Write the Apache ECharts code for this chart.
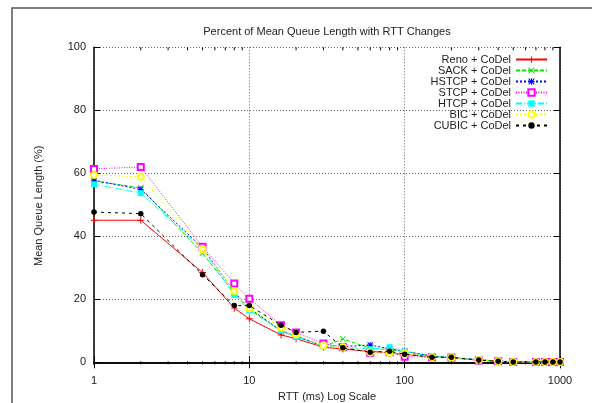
<!DOCTYPE html>
<html>
<head>
<meta charset="utf-8">
<script src="https://cdn.jsdelivr.net/npm/echarts@6/dist/echarts.min.js"></script>
<style>
html,body{margin:0;padding:0;background:#fff;}
#chart{width:592px;height:403px;}
</style>
</head>
<body>
<div id="chart"></div>
<script>
// ---- data ----
const rtt = [1, 2, 5, 8, 10, 16, 20, 30, 40, 60, 80, 100, 150, 200, 300, 400, 500, 700, 800, 900, 1000];
const reno  = [45.1, 45.1, 28.5, 17.2, 13.8, 8.7, 7.5, 4.8, 4.2, 3.5, 3.0, 2.5, 1.8, 1.4, 0.7, 0.3, 0.2, 0.1, 0.1, 0.1, 0.1];
const sack  = [57.5, 55.4, 34.6, 22.0, 16.8, 10.0, 8.2, 5.0, 7.4, 4.5, 4.0, 3.4, 2.0, 1.5, 0.8, 0.4, 0.2, 0.1, 0.1, 0.1, 0.1];
const hstcp = [57.8, 54.9, 36.3, 22.5, 17.2, 10.0, 8.3, 5.3, 5.0, 5.5, 4.3, 3.5, 2.0, 1.5, 0.8, 0.4, 0.2, 0.1, 0.1, 0.1, 0.1];
const stcp  = [61.4, 62.0, 36.7, 25.0, 20.2, 11.8, 9.5, 6.0, 4.8, 3.0, 3.2, 1.8, 1.6, 1.5, 0.6, 0.3, 0.1, 0.1, 0.1, 0.1, 0.1];
const htcp  = [56.5, 53.7, 36.0, 21.4, 16.5, 10.2, 8.1, 5.3, 4.8, 4.2, 4.8, 3.4, 1.8, 1.5, 0.8, 0.4, 0.2, 0.1, 0.1, 0.1, 0.1];
const bic   = [59.5, 58.9, 35.9, 22.6, 17.2, 11.0, 8.8, 5.3, 4.8, 3.2, 3.0, 2.8, 1.7, 1.5, 0.7, 0.3, 0.1, 0.1, 0.1, 0.1, 0.1];
const cubic = [47.7, 47.2, 27.8, 18.0, 18.0, 11.8, 9.5, 9.9, 4.6, 3.2, 3.5, 2.6, 1.6, 1.6, 0.7, 0.3, 0.1, 0.1, 0.1, 0.1, 0.1];
const seriesNames = ['Reno + CoDel', 'SACK + CoDel', 'HSTCP + CoDel', 'STCP + CoDel', 'HTCP + CoDel', 'BIC + CoDel', 'CUBIC + CoDel'];
const yTicks = [0, 20, 40, 60, 80, 100];
const xMinorTicks = [2, 3, 4, 5, 6, 7, 8, 9, 20, 30, 40, 50, 60, 70, 80, 90, 200, 300, 400, 500, 600, 700, 800, 900];
const titleText = 'Percent of Mean Queue Length with RTT Changes';
const xName = 'RTT (ms) Log Scale';
const yName = 'Mean Queue Length (%)';

// ---- styling ----
const FONT = 'Liberation Sans, Arial, Helvetica, sans-serif';
const PLUS = 'path://M4.3,0H5.7V4.3H10V5.7H5.7V10H4.3V5.7H0V4.3H4.3Z';
const CROSS = 'path://M0,1L1,0L5,4L9,0L10,1L6,5L10,9L9,10L5,6L1,10L0,9L4,5Z';
const STAR = 'path://M4.2,0H5.8V4.2H10V5.8H5.8V10H4.2V5.8H0V4.2H4.2Z M0,1.2L1.2,0L5,3.8L8.8,0L10,1.2L6.2,5L10,8.8L8.8,10L5,6.2L1.2,10L0,8.8L3.8,5Z';

const styles = [
  {data: reno,  color: '#ff0000', type: 'solid',     symbol: PLUS,          size: 7},
  {data: sack,  color: '#00e600', type: [4, 2],      symbol: CROSS,         size: 6},
  {data: hstcp, color: '#0000ff', type: [2, 2],      symbol: STAR,          size: 6},
  {data: stcp,  color: '#ff00ff', type: [1, 1.5],    symbol: 'emptyRect',   size: 6},
  {data: htcp,  color: '#00ffff', type: [6, 2, 1, 2],symbol: 'rect',        size: 6},
  {data: bic,   color: '#ffff00', type: [2, 2],      symbol: 'emptyCircle', size: 6},
  {data: cubic, color: '#000000', type: [3, 4],      symbol: 'circle',      size: 5.5}
];

const lineSeries = styles.map((s, i) => ({
  name: seriesNames[i],
  type: 'line',
  data: rtt.map((x, k) => [x, s.data[k]]),
  symbol: s.symbol,
  symbolSize: s.size,
  showAllSymbol: true,
  color: s.color,
  lineStyle: {color: s.color, width: 1, type: s.type},
  itemStyle: {color: s.color, borderColor: s.color, borderWidth: (s.symbol.indexOf('empty') === 0) ? 1 : 0},
  emphasis: {disabled: true},
  z: 3 + i
}));

const minorTickSeries = {
  type: 'custom',
  silent: true,
  z: 10,
  data: xMinorTicks.map(v => [v, 50]),
  renderItem: function (params, api) {
    const x = api.coord([api.value(0), 50])[0];
    const cs = params.coordSys;
    const yb = cs.y + cs.height;
    return {
      type: 'group',
      children: [
        {type: 'line', shape: {x1: x, y1: yb, x2: x, y2: yb - 3}, style: {stroke: '#000', lineWidth: 1}},
        {type: 'line', shape: {x1: x, y1: cs.y, x2: x, y2: cs.y + 3}, style: {stroke: '#000', lineWidth: 1}}
      ]
    };
  }
};

const axisLineStyle = {show: true, lineStyle: {color: '#000', width: 1.5}};
const gridLine = {show: true, lineStyle: {color: '#666', width: 1, type: [1, 2]}};
const labelStyle = {color: '#222', fontSize: 11, fontFamily: FONT};

const option = {
  animation: false,
  backgroundColor: '#fff',
  title: {
    text: titleText,
    left: 327,
    top: 26,
    textAlign: 'center',
    padding: 0,
    textStyle: {fontSize: 11, fontWeight: 'normal', color: '#222', fontFamily: FONT}
  },
  legend: {
    data: seriesNames,
    orient: 'vertical',
    align: 'right',
    right: 44,
    top: 54,
    padding: 0,
    itemGap: 0,
    itemWidth: 31,
    itemHeight: 8,
    selectedMode: false,
    textStyle: {fontSize: 11, color: '#222', fontFamily: FONT, lineHeight: 10.5}
  },
  grid: {left: 94, right: 32, top: 47.3, bottom: 38.7, containLabel: false, outerBoundsMode: 'none'},
  xAxis: [
    {
      type: 'log', logBase: 10, min: 1, max: 1000, position: 'bottom',
      axisLine: axisLineStyle,
      axisTick: {show: true, inside: true, length: 6, lineStyle: {color: '#000', width: 1}},
      axisLabel: Object.assign({margin: 11, formatter: v => String(v)}, labelStyle),
      splitLine: gridLine,
      minorTick: {show: false},
      name: xName, nameLocation: 'middle', nameGap: 26,
      nameTextStyle: {fontSize: 11, color: '#222', fontFamily: FONT}
    },
    {
      type: 'log', logBase: 10, min: 1, max: 1000, position: 'top',
      axisLine: axisLineStyle,
      axisTick: {show: true, inside: true, length: 6, lineStyle: {color: '#000', width: 1}},
      axisLabel: {show: false},
      splitLine: {show: false}
    }
  ],
  yAxis: [
    {
      type: 'value', min: -0.63, max: 100, position: 'left',
      axisLine: axisLineStyle,
      axisTick: {show: true, inside: true, length: 6, customValues: yTicks, lineStyle: {color: '#000', width: 1}},
      axisLabel: Object.assign({margin: 8, customValues: yTicks}, labelStyle),
      splitLine: gridLine,
      name: yName, nameLocation: 'middle', nameGap: 50, nameRotate: 90,
      nameTextStyle: {fontSize: 11, color: '#222', fontFamily: FONT}
    },
    {
      type: 'value', min: -0.63, max: 100, position: 'right',
      axisLine: axisLineStyle,
      axisTick: {show: true, inside: true, length: 6, customValues: yTicks, lineStyle: {color: '#000', width: 1}},
      axisLabel: {show: false, customValues: yTicks},
      splitLine: {show: false}
    }
  ],
  graphic: [
    {
      type: 'polyline', silent: true, z: 100,
      shape: {points: [[12, 403], [12, 8], [592, 8]]},
      style: {stroke: '#555', lineWidth: 1.5, fill: null}
    }
  ],
  series: lineSeries.concat([minorTickSeries])
};

const chart = echarts.init(document.getElementById('chart'), null, {renderer: 'canvas'});
chart.setOption(option);
</script>
</body>
</html>
